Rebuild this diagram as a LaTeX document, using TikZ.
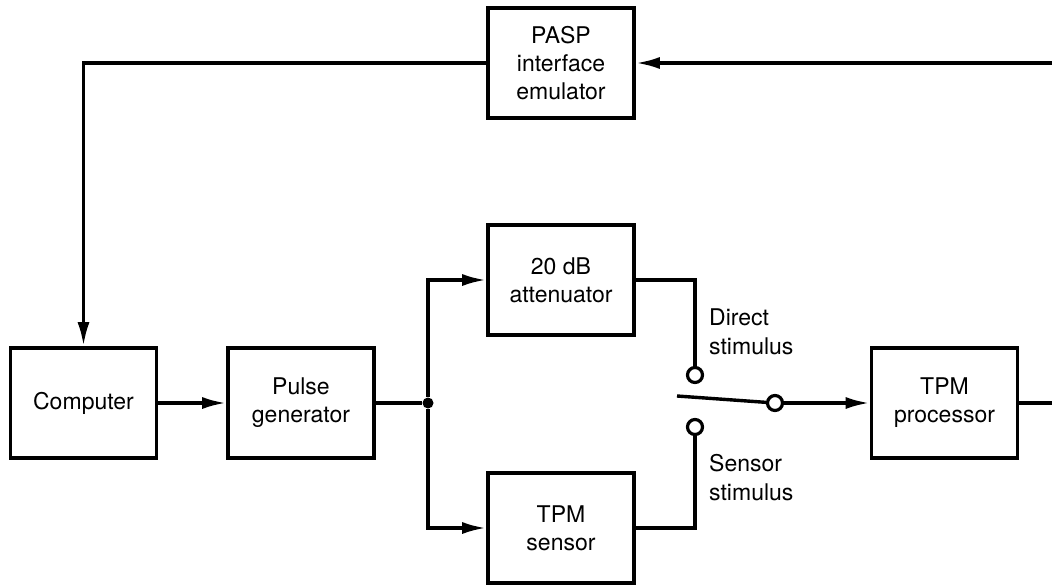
\documentclass[tikz,border=0pt]{standalone}
\usepackage{fontspec}
\setmainfont{TeX Gyre Heros}
\usetikzlibrary{arrows.meta}

\begin{document}
\begin{tikzpicture}[x=1pt,y=-1pt,
   blk/.style={draw,line width=3.6pt,minimum width=146pt,minimum height=110pt,
     align=center,font=\fontsize{23}{28}\selectfont,inner sep=0pt},
   lbl/.style={align=left,font=\fontsize{23}{29}\selectfont,inner sep=0pt,anchor=west},
   term/.style={circle,draw,fill=white,line width=3.2pt,inner sep=0pt,minimum size=15pt},
   jdot/.style={circle,fill,inner sep=0pt,minimum size=11pt},
   wire/.style={line width=3.4pt},
   arr/.style={wire,-{Latex[length=24pt,width=12pt]}}]
   \useasboundingbox (0,0) rectangle (1052,587);
   % blocks
   \node[blk] (pasp) at (561,63)    {PASP\\interface\\emulator};
   \node[blk] (comp) at (83.5,403)  {Computer};
   \node[blk] (puls) at (301,403)   {Pulse\\generator};
   \node[blk] (att)  at (561,280)   {20 dB\\attenuator};
   \node[blk] (sens) at (561,528)   {TPM\\sensor};
   \node[blk] (proc) at (944.5,403) {TPM\\processor};
   % switch and junction
   \node[jdot] (jn) at (428,403) {};
   \coordinate (pv) at (677,396);
   \coordinate (inR) at (1052,63);
   \coordinate (outR) at (1052,403);
   \node[lbl] (dlab) at (709,332) {Direct\\stimulus};
   \node[lbl] (slab) at (709,478) {Sensor\\stimulus};
   % connections
   \draw[arr] (inR) -- (pasp);
   \draw[arr] (pasp) -| (comp);
   \draw[arr] (comp) -- (puls);
   \draw[wire] (puls) -- (jn);
   \draw[arr] (jn) |- (att);
   \draw[arr] (jn) |- (sens);
   \draw[wire] (att) -| (695,375);
   \draw[wire] (sens) -| (695,427);
   \node[term] (sw) at (775,403) {};
   \draw[wire] (pv) -- (sw);
   \draw[arr] (sw) -- (proc);
   \draw[wire] (proc) -- (outR);
   \node[term] (dt) at (695,375) {};
   \node[term] (st) at (695,427) {};
\end{tikzpicture}
\end{document}
